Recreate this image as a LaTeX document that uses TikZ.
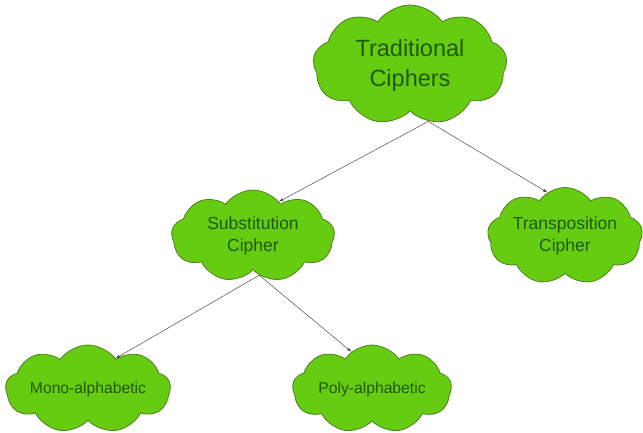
\documentclass[tikz,border=0pt]{standalone}
\usepackage{fontspec}
\setmainfont{Liberation Sans}
\usepackage{tikz}
\usetikzlibrary{shapes.symbols}
\definecolor{leaf}{HTML}{66CC11}
\definecolor{leafline}{HTML}{4F7F1F}
\definecolor{leaftext}{HTML}{1E5A00}

\begin{document}
\begin{tikzpicture} [x=1pt, y=-1pt,
		puff/.style = {cloud, cloud puffs=9, cloud puff arc=110, cloud ignores aspect, draw=leafline, line width=0.8pt, fill=leaf, text=leaftext, align=center, inner sep=0pt},
		link/.style = {-latex, draw=black!70, line width=0.5pt}]
		\useasboundingbox (0,0) rectangle (643,433);
		\node[puff, minimum width=194pt, minimum height=120pt, font=\fontsize{23.5}{30}\selectfont] (trad) at (410,65) {Traditional\\Ciphers};
		\node[puff, minimum width=163pt, minimum height=92pt, font=\fontsize{17.5}{22}\selectfont] (subst) at (253,236) {Substitution\\Cipher};
		\node[puff, minimum width=155pt, minimum height=97pt, font=\fontsize{17.5}{22}\selectfont] (transp) at (565,236) {Transposition\\Cipher};
		\node[puff, minimum width=165pt, minimum height=88pt, font=\fontsize{15.7}{19}\selectfont] (mono) at (88,389) {Mono-alphabetic};
		\node[puff, minimum width=159pt, minimum height=88pt, font=\fontsize{15.7}{19}\selectfont] (poly) at (372,389) {Poly-alphabetic};
		\draw [link] (trad.-72) -- (subst.53);
		\draw [link] (trad.-72) -- (transp.112);
		\draw [link] (subst.-81) -- (mono.48);
		\draw [link] (subst.-81) -- (poly.119);
	\end{tikzpicture}
\end{document}
